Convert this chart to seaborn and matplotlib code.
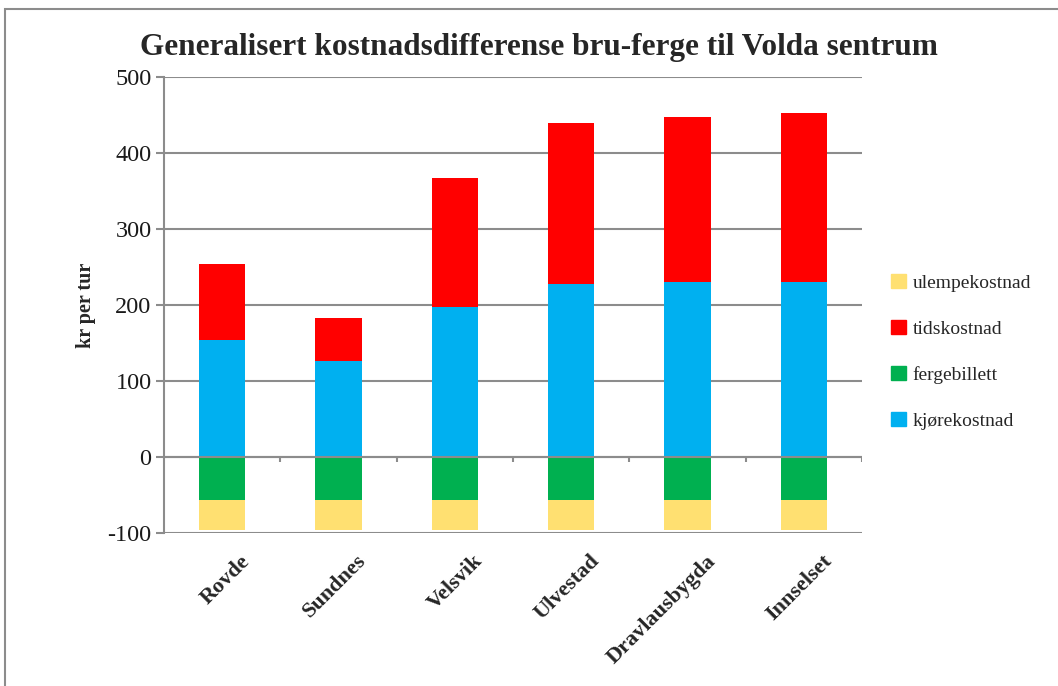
import matplotlib
matplotlib.use("Agg")
import matplotlib.pyplot as plt
import seaborn as sns
import pandas as pd
import numpy as np
from matplotlib.patches import Patch, Rectangle

steder = ["Rovde", "Sundnes", "Velsvik", "Ulvestad", "Dravlausbygda", "Innselset"]
kjorekostnad = [154, 126, 197, 227, 230, 230]
tidskostnad = [100, 57, 170, 213, 218, 222]
fergebillett = [-56, -56, -56, -56, -56, -56]
ulempekostnad = [-40, -40, -40, -40, -40, -40]

C_BLUE = "#00b0f0"
C_RED = "#ff0000"
C_GREEN = "#00b050"
C_YELLOW = "#ffe071"
GRID = "#8c8c8c"

sns.set_theme(style="white")
plt.rcParams["font.family"] = ["Liberation Serif", "DejaVu Serif"]
plt.rcParams["axes.unicode_minus"] = False

df = pd.DataFrame({
    "sted": steder,
    "kjore": kjorekostnad,
    "tid": tidskostnad,
    "ferge": fergebillett,
    "ulempe": ulempekostnad,
})
df["pos_total"] = df["kjore"] + df["tid"]
df["neg_total"] = df["ferge"] + df["ulempe"]

fig = plt.figure(figsize=(10.58, 6.86), dpi=100)
ax = fig.add_axes([164 / 1058, 1 - 533 / 686, (862 - 164) / 1058, (533 - 77) / 686])

ax.set_ylim(-100, 500)
ax.set_yticks(range(-100, 501, 100))
ax.yaxis.grid(True, color=GRID, linewidth=1.5)
ax.set_axisbelow(True)

w = 0.4
sns.barplot(data=df, x="sted", y="pos_total", color=C_RED, width=w, ax=ax,
            saturation=1, linewidth=0, zorder=3)
sns.barplot(data=df, x="sted", y="kjore", color=C_BLUE, width=w, ax=ax,
            saturation=1, linewidth=0, zorder=3)
sns.barplot(data=df, x="sted", y="neg_total", color=C_YELLOW, width=w, ax=ax,
            saturation=1, linewidth=0, zorder=3)
sns.barplot(data=df, x="sted", y="ferge", color=C_GREEN, width=w, ax=ax,
            saturation=1, linewidth=0, zorder=3)

ax.set_xlim(-0.5, len(steder) - 0.5)
ax.axhline(0, color=GRID, linewidth=1.5, zorder=4)
ax.vlines(np.arange(0.5, len(steder), 1.0), -6.5, 0, color=GRID, linewidth=1.5, zorder=4)

for s in ["top", "right", "bottom"]:
    ax.spines[s].set_visible(False)
ax.spines["left"].set_color(GRID)
ax.spines["left"].set_linewidth(1.5)
ax.tick_params(axis="y", left=True, length=6, width=1.5, color=GRID, labelsize=17.5, pad=3,
               labelcolor="#1a1a1a")
ax.tick_params(axis="x", bottom=False, pad=7)

ax.set_xlabel("")
ax.set_ylabel("kr per tur", fontsize=14.5, fontweight="bold", labelpad=8)
ax.set_xticks(range(len(steder)))
ax.set_xticklabels(steder, rotation=45, ha="right", rotation_mode="anchor",
                   fontweight="bold", fontsize=16)
for lbl in ax.get_xticklabels():
    lbl.set_transform(lbl.get_transform() + matplotlib.transforms.ScaledTranslation(0.18, 0, fig.dpi_scale_trans))

fig.text(539 / 1058, 1 - 47 / 686, "Generalisert kostnadsdifferense bru-ferge til Volda sentrum",
         ha="center", va="center", fontsize=22.5, fontweight="bold")

handles = [Patch(color=C_YELLOW, label="ulempekostnad"),
           Patch(color=C_RED, label="tidskostnad"),
           Patch(color=C_GREEN, label="fergebillett"),
           Patch(color=C_BLUE, label="kjørekostnad")]
fig.legend(handles=handles, loc="center left", bbox_to_anchor=(891 / 1058, 1 - 352 / 686),
           frameon=False, fontsize=14, handlelength=0.75, handleheight=0.75,
           labelspacing=1.45, handletextpad=0.35, borderpad=0, borderaxespad=0)

fig.add_artist(Rectangle((5 / 1058, -0.05), 1.2, 1 - 9 / 686 + 0.05, transform=fig.transFigure,
                         fill=False, edgecolor="#8c8c8c", linewidth=1.5))

fig.savefig("out.png", dpi=100)
